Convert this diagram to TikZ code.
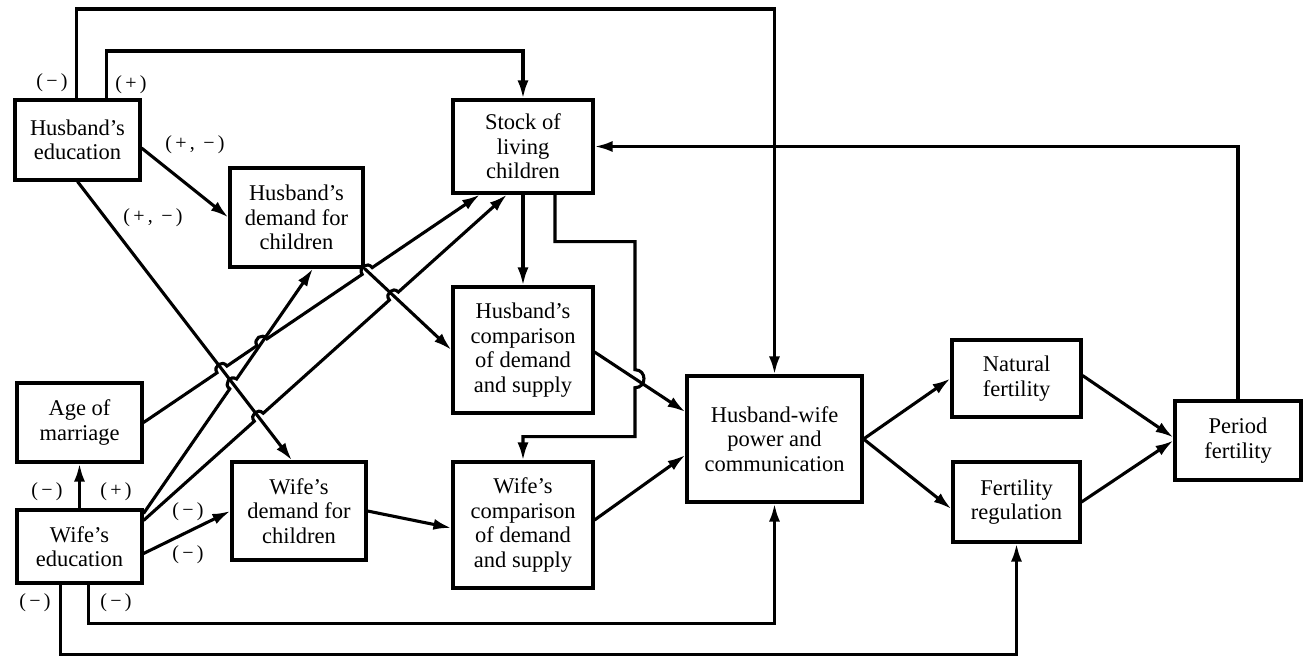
\documentclass[tikz,border=0pt]{standalone}
\usepackage{fontspec}
\setmainfont{Liberation Serif}
\usetikzlibrary{arrows.meta,calc}
\begin{document}
\begin{tikzpicture}[x=1pt,y=1pt,
  box/.style={draw, line width=3.1pt, align=center, inner sep=0pt, font=\fontsize{22.5}{24.5}\selectfont},
  arr/.style={line width=3.1pt, -{Latex[length=18pt,width=11pt]}},
  lab/.style={font=\fontsize{20}{22}\selectfont, inner sep=0pt},
  hop/.style={bend left=90, looseness=1.7}]
\useasboundingbox (0,0) rectangle (1303,-656);
% boxes
\node[box, minimum width=125pt, minimum height=80pt] (he) at (77.5,-140) {Husband’s\\education};
\node[box, minimum width=133pt, minimum height=99pt] (hd) at (296.5,-217.5) {Husband’s\\demand for\\children};
\node[box, minimum width=125pt, minimum height=79pt] (am) at (79.5,-422.5) {Age of\\marriage};
\node[box, minimum width=125pt, minimum height=73pt] (we) at (79.5,-546.5) {Wife’s\\education};
\node[box, minimum width=134pt, minimum height=98pt] (wd) at (299,-511) {Wife’s\\demand for\\children};
\node[box, minimum width=140pt, minimum height=93pt] (st) at (523,-146.5) {Stock of\\living\\children};
\node[box, minimum width=140pt, minimum height=126pt] (hc) at (523,-350) {Husband’s\\comparison\\of demand\\and supply};
\node[box, minimum width=140pt, minimum height=126pt] (wc) at (523,-525) {Wife’s\\comparison\\of demand\\and supply};
\node[box, minimum width=175pt, minimum height=126pt] (hw) at (774.5,-439) {Husband-wife\\power and\\communication};
\node[box, minimum width=129pt, minimum height=77pt] (nf) at (1016.5,-378.5) {Natural\\fertility};
\node[box, minimum width=127pt, minimum height=80pt] (fr) at (1016.5,-502) {Fertility\\regulation};
\node[box, minimum width=126pt, minimum height=79pt] (pf) at (1238,-440.5) {Period\\fertility};
% helper coordinates
\coordinate (ytop) at (0,-9);
\coordinate (ymid) at (0,-51);
\coordinate (heR) at ([yshift=-8pt]he.east);
\coordinate (heB) at (he.south);
\coordinate (wdT) at ([xshift=-7pt]wd.north);
\coordinate (hdC) at (hd.south east);
\coordinate (hcW) at (hc.west);
\coordinate (amR) at (am.east);
\coordinate (stA) at ([xshift=-43pt]st.south);
\coordinate (stB) at ([xshift=-16pt]st.south);
\coordinate (weA) at ([yshift=-5pt]we.north east);
\coordinate (weB) at ([yshift=-12pt]we.north east);
\coordinate (hdB) at ([xshift=16.5pt]hd.south);
\coordinate (X1) at (intersection of amR--stA and heB--wdT);
\coordinate (X2) at (intersection of amR--stA and weA--hdB);
\coordinate (X3) at (intersection of amR--stA and hdC--hcW);
\coordinate (X4) at (intersection of weB--stB and heB--wdT);
\coordinate (X5) at (intersection of weB--stB and hdC--hcW);
\coordinate (X6) at (intersection of weA--hdB and heB--wdT);
\coordinate (sA) at ([xshift=32pt]st.south);
\coordinate (sB) at ($(sA)+(0,-47)$);
\coordinate (sC) at ($(sB)+(80,0)$);
\coordinate (sD) at ($(sC)+(0,-195)$);
\coordinate (hcE) at ([yshift=-2pt]hc.east);
\coordinate (hwA) at ([yshift=27pt]hw.west);
\coordinate (X7) at (intersection of sC--sD and hcE--hwA);
% connectors
\draw[arr] ([xshift=63pt]he.north west) |- (ytop -| hw.north) -- (hw.north);
\draw[arr] ([xshift=93pt]he.north west) |- (ymid -| st.north) -- (st.north);
\draw[arr] (pf.north) |- (st.east);
\draw[arr] (heR) -- (hd.west);
\draw[arr] (heB) -- (wdT);
\draw[arr] (hdC) -- (hcW);
\draw[arr] (amR) -- ($(X1)!6pt!(amR)$) to[hop] ($(X1)!6pt!(stA)$)
  -- ($(X2)!6pt!(amR)$) to[hop] ($(X2)!6pt!(stA)$)
  -- ($(X3)!6pt!(amR)$) to[hop] ($(X3)!6pt!(stA)$) -- (stA);
\draw[arr] (weB) -- ($(X4)!6pt!(weB)$) to[hop] ($(X4)!6pt!(stB)$)
  -- ($(X5)!6pt!(weB)$) to[hop] ($(X5)!6pt!(stB)$) -- (stB);
\draw[arr] (weA) -- ($(X6)!6pt!(weA)$) to[hop] ($(X6)!6pt!(hdB)$) -- (hdB);
\draw[arr] (we.north) -- (am.south);
\draw[arr] ([yshift=-7pt]we.east) -- (wd.west);
\draw[arr] (wd.east) -- ([yshift=-3pt]wc.west);
\draw[arr] (st.south) -- (hc.north);
\draw[arr] (sA) -- (sB) -- (sC) -- ($(X7)!9pt!(sC)$) to[hop] ($(X7)!9pt!(sD)$) -- (sD) -- (sD -| wc.north) -- (wc.north);
\draw[arr] (hcE) -- (hwA);
\draw[arr] ([yshift=5pt]wc.east) -- ([yshift=-16pt]hw.west);
\draw[arr] ([xshift=73pt]we.south west) |- ([yshift=-120pt]hw.south) -- (hw.south);
\draw[arr] ([xshift=45pt]we.south west) |- ([yshift=-111pt]fr.south) -- (fr.south);
\draw[arr] (hw.east) -- (nf.west);
\draw[arr] (hw.east) -- ([yshift=-7pt]fr.west);
\draw[arr] ([yshift=3pt]nf.east) -- ([yshift=3pt]pf.west);
\draw[arr] (fr.east) -- (pf.west);
% labels
\node[lab] (l1) at (52,-83) {(\,−\,)};
\node[lab] (l2) at (131,-85) {(\,+\,)};
\node[lab] (l3) at (195,-145) {(\,+\,,\,\ −\,)};
\node[lab] (l4) at (153,-218) {(\,+\,,\,\ −\,)};
\node[lab] (l5) at (47,-492) {(\,−\,)};
\node[lab] (l6) at (116,-492) {(\,+\,)};
\node[lab] (l7) at (188,-512) {(\,−\,)};
\node[lab] (l8) at (188,-555) {(\,−\,)};
\node[lab] (l9) at (35,-603) {(\,−\,)};
\node[lab] (l10) at (116,-603) {(\,−\,)};
\end{tikzpicture}
\end{document}
